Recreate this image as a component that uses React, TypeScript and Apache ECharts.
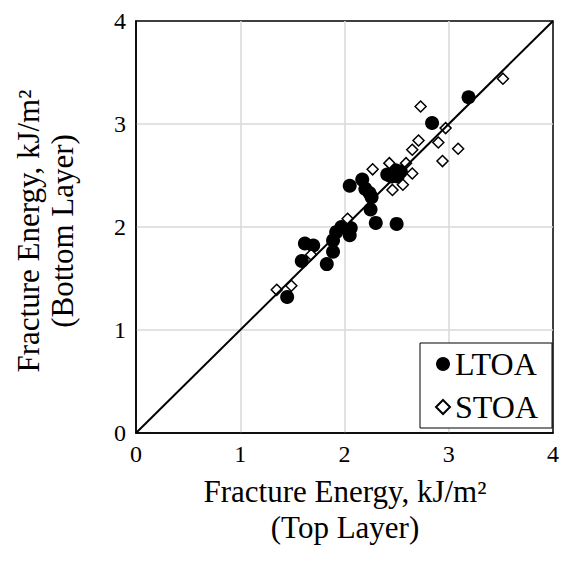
import React, { useEffect, useRef } from "react";
import * as echarts from "echarts";

const ltoaX = [3.19, 2.84, 2.41, 2.49, 2.54, 2.51, 2.45, 2.05, 2.17, 2.20, 2.24, 2.26, 2.25, 2.30, 2.50, 1.97, 2.06, 2.05, 1.92, 1.89, 1.89, 1.83, 1.62, 1.70, 1.59, 1.45];
const ltoaY = [3.26, 3.01, 2.51, 2.55, 2.54, 2.49, 2.49, 2.40, 2.46, 2.37, 2.33, 2.29, 2.17, 2.04, 2.03, 2.00, 1.99, 1.92, 1.95, 1.87, 1.76, 1.64, 1.84, 1.82, 1.67, 1.32];
const stoaX = [3.52, 2.73, 2.97, 2.90, 3.09, 2.94, 2.71, 2.65, 2.59, 2.65, 2.56, 2.46, 2.43, 2.27, 2.03, 1.68, 1.49, 1.35];
const stoaY = [3.44, 3.17, 2.96, 2.82, 2.76, 2.64, 2.84, 2.75, 2.62, 2.52, 2.41, 2.36, 2.62, 2.56, 2.08, 1.73, 1.43, 1.39];
const lineX = [0, 4];
const lineY = [0, 4];
const seriesNames = ["LTOA", "STOA"];
const xTitle = ["Fracture Energy, kJ/m²", "(Top Layer)"];
const yTitle = ["Fracture Energy, kJ/m²", "(Bottom Layer)"];

const FONT = "Liberation Serif";

export default function App() {
  const ref = useRef<HTMLDivElement>(null);
  useEffect(() => {
    if (!ref.current) return;
    const chart = echarts.init(ref.current, undefined, { renderer: "svg" });
    const zip = (xs: number[], ys: number[]) => xs.map((x, i) => [x, ys[i]]);
    const axisCommon = {
      type: "value" as const,
      min: 0,
      max: 4,
      interval: 1,
      axisLine: { show: true, lineStyle: { color: "#000", width: 1.5 } },
      axisTick: { show: false },
      splitLine: { show: true, showMinLine: false, showMaxLine: false, lineStyle: { color: "#d9d9d9", width: 1.5 } },
    };
    const titleStyle = (text: string) => ({
      text,
      align: "center",
      verticalAlign: "middle",
      fill: "#000",
      fontFamily: FONT,
      fontSize: 31,
      lineHeight: 31,
    });
    chart.setOption({
      animation: false,
      backgroundColor: "#fff",
      textStyle: { fontFamily: FONT },
      grid: { left: 136, right: 8, top: 21, bottom: 139, show: true, borderColor: "#000", borderWidth: 1.5, backgroundColor: "#fff" },
      xAxis: { ...axisCommon, axisLabel: { fontSize: 24, color: "#000", fontFamily: FONT, margin: 9 } },
      yAxis: { ...axisCommon, axisLabel: { fontSize: 24, color: "#000", fontFamily: FONT, margin: 10 } },
      legend: {
        data: seriesNames,
        orient: "vertical",
        right: 10,
        bottom: 144,
        padding: [5, 14, 5, 15],
        itemGap: 11,
        itemWidth: 14,
        itemHeight: 14,
        borderColor: "#000",
        borderWidth: 1,
        borderRadius: 0,
        backgroundColor: "#fff",
        textStyle: { fontSize: 32, color: "#000", fontFamily: FONT },
      },
      series: [
        {
          name: seriesNames[0],
          type: "scatter",
          data: zip(ltoaX, ltoaY),
          symbol: "circle",
          symbolSize: 14,
          itemStyle: { color: "#000", opacity: 1 },
          z: 3,
        },
        {
          name: seriesNames[1],
          type: "scatter",
          data: zip(stoaX, stoaY),
          symbol: "diamond",
          symbolSize: 11,
          itemStyle: { color: "#fff", borderColor: "#000", borderWidth: 1.5, opacity: 1 },
          z: 4,
        },
        {
          name: "1:1",
          type: "line",
          data: zip(lineX, lineY),
          symbol: "none",
          lineStyle: { color: "#000", width: 2 },
          z: 5,
          silent: true,
        },
      ],
      graphic: [
        { type: "text", x: 345, y: 491, style: titleStyle(xTitle[0]) },
        { type: "text", x: 345, y: 527, style: titleStyle(xTitle[1]) },
        { type: "text", x: 28, y: 231, rotation: Math.PI / 2, style: titleStyle(yTitle[0]) },
        { type: "text", x: 62, y: 231, rotation: Math.PI / 2, style: titleStyle(yTitle[1]) },
      ],
    });
    return () => chart.dispose();
  }, []);
  return <div ref={ref} style={{ width: 562, height: 572, position: "absolute", left: 0, top: 0 }} />;
}
